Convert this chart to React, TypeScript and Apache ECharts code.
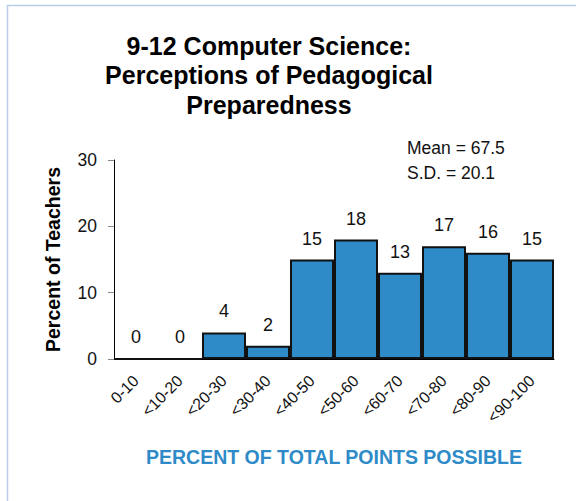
import React, { useEffect, useRef } from "react";
import * as echarts from "echarts";

const categories = ["0-10", "<10-20", "<20-30", "<30-40", "<40-50", "<50-60", "<60-70", "<70-80", "<80-90", "<90-100"];
const percents = [0, 0, 4, 2, 15, 18, 13, 17, 16, 15];
const yTicks = { min: 0, max: 30, interval: 10 };
const titleLines = ["9-12 Computer Science:", "Perceptions of Pedagogical", "Preparedness"];
const statsLines = ["Mean = 67.5", "S.D. = 20.1"];

const FONT = "'Liberation Sans', Arial, sans-serif";

export default function App() {
  const ref = useRef<HTMLDivElement>(null);
  useEffect(() => {
    document.body.style.margin = "0";
    const chart = echarts.init(ref.current!, null, { renderer: "svg" });
    chart.setOption({
      animation: false,
      backgroundColor: "#ffffff",
      title: [
        {
          text: titleLines.join("\n"),
          left: 269,
          top: 31,
          textAlign: "center",
          padding: 0,
          textStyle: { fontFamily: FONT, fontSize: 25, fontWeight: "bold", lineHeight: 29.5, color: "#000" },
        },
        {
          text: statsLines.join("\n"),
          left: 407,
          top: 135,
          padding: 0,
          textStyle: { fontFamily: FONT, fontSize: 17.5, fontWeight: "normal", lineHeight: 25, color: "#111" },
        },
      ],
      graphic: [
        {
          type: "rect",
          shape: { x: 7.5, y: 5.5, width: 620, height: 620 },
          style: { fill: "none", stroke: "#bccbe6", lineWidth: 1.5 },
          silent: true,
          z: -1,
        },
      ],
      grid: { left: 114, right: 22, top: 160, bottom: 142, containLabel: false },
      xAxis: {
        type: "category",
        data: categories,
        axisLine: { lineStyle: { color: "#000", width: 1 } },
        axisTick: { show: false },
        axisLabel: {
          rotate: 45,
          interval: 0,
          margin: 19,
          fontFamily: FONT,
          fontSize: 16,
          color: "#111",
        },
        name: "PERCENT OF TOTAL POINTS POSSIBLE",
        nameLocation: "middle",
        nameGap: 88,
        nameTextStyle: { fontFamily: FONT, fontSize: 19.5, fontWeight: "bold", color: "#2e8bc8" },
      },
      yAxis: {
        type: "value",
        min: yTicks.min,
        max: yTicks.max,
        interval: yTicks.interval,
        axisLine: { show: true, lineStyle: { color: "#000", width: 1 } },
        axisTick: { show: true, length: 6, lineStyle: { color: "#888" } },
        splitLine: { show: false },
        axisLabel: { margin: 17, fontFamily: FONT, fontSize: 17.5, color: "#111" },
        name: "Percent of Teachers",
        nameLocation: "middle",
        nameRotate: 90,
        nameGap: 51,
        nameTextStyle: { fontFamily: FONT, fontSize: 19.5, fontWeight: "bold", color: "#000" },
      },
      series: [
        {
          type: "bar",
          data: percents,
          barCategoryGap: "0%",
          itemStyle: { color: "#2e8bc8", borderColor: "#111", borderWidth: 2 },
          label: {
            show: true,
            position: "top",
            distance: 12,
            fontFamily: FONT,
            fontSize: 18,
            color: "#111",
          },
        },
      ],
    });
    return () => chart.dispose();
  }, []);
  return <div ref={ref} style={{ width: 576, height: 501 }} />;
}
